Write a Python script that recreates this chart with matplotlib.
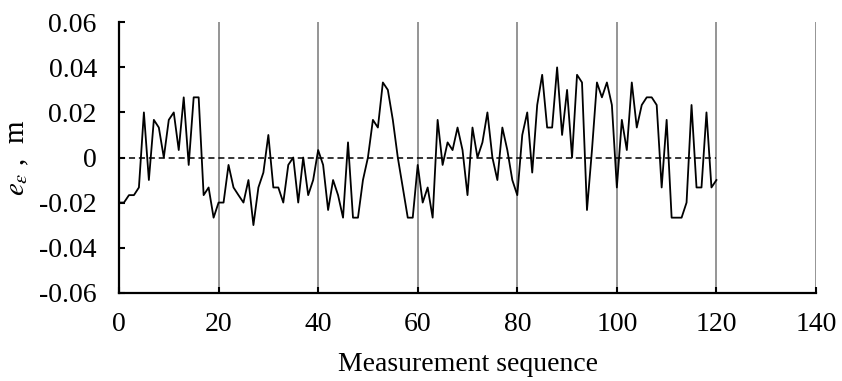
import matplotlib
matplotlib.use("Agg")
import matplotlib.pyplot as plt
import numpy as np

# Measurement sequence and error values (m)
seq = list(range(0, 121))
err = [
    -0.0200, -0.0200, -0.0167, -0.0167, -0.0133, 0.0200, -0.0100, 0.0167, 0.0133, 0.0000,
    0.0167, 0.0200, 0.0033, 0.0267, -0.0033, 0.0267, 0.0267, -0.0167, -0.0133, -0.0267,
    -0.0200, -0.0200, -0.0033, -0.0133, -0.0167, -0.0200, -0.0100, -0.0300, -0.0133, -0.0067,
    0.0100, -0.0133, -0.0133, -0.0200, -0.0033, 0.0000, -0.0200, 0.0000, -0.0167, -0.0100,
    0.0033, -0.0033, -0.0233, -0.0100, -0.0167, -0.0267, 0.0067, -0.0267, -0.0267, -0.0100,
    0.0000, 0.0167, 0.0133, 0.0333, 0.0300, 0.0167, 0.0000, -0.0133, -0.0267, -0.0267,
    -0.0033, -0.0200, -0.0133, -0.0267, 0.0167, -0.0033, 0.0067, 0.0033, 0.0133, 0.0033,
    -0.0167, 0.0133, 0.0000, 0.0067, 0.0200, 0.0000, -0.0100, 0.0133, 0.0033, -0.0100,
    -0.0167, 0.0100, 0.0200, -0.0067, 0.0233, 0.0367, 0.0133, 0.0133, 0.0400, 0.0100,
    0.0300, 0.0000, 0.0367, 0.0333, -0.0233, 0.0033, 0.0333, 0.0267, 0.0333, 0.0233,
    -0.0133, 0.0167, 0.0033, 0.0333, 0.0133, 0.0233, 0.0267, 0.0267, 0.0233, -0.0133,
    0.0167, -0.0267, -0.0267, -0.0267, -0.0200, 0.0233, -0.0133, -0.0133, 0.0200, -0.0133,
    -0.0100,
]
xticks = [0, 20, 40, 60, 80, 100, 120, 140]
yticks = [-0.06, -0.04, -0.02, 0.0, 0.02, 0.04, 0.06]
ytick_labels = ["-0.06", "-0.04", "-0.02", "0", "0.02", "0.04", "0.06"]

plt.rcParams['font.family'] = ['Liberation Serif', 'DejaVu Serif']
plt.rcParams['mathtext.fontset'] = 'stix'

fig = plt.figure(figsize=(8.42, 3.81), dpi=100)
ax = fig.add_axes([119 / 842, 1 - 292.7 / 381, (816 - 119) / 842, (292.7 - 22.3) / 381])

for xt in xticks[1:]:
    ax.axvline(xt, color='#8c8c8c', lw=1.3, zorder=1)

ax.hlines(0, seq[0], seq[-1], colors='black', linestyles=(0, (4, 2.5)), lw=1.1, zorder=2)
ax.plot(seq, err, color='black', lw=1.3, zorder=3)

ax.set_xlim(0, 140)
ax.set_ylim(-0.06, 0.06)
ax.set_xticks(xticks)
ax.set_yticks(yticks)
ax.set_yticklabels(ytick_labels)

for s in ['top', 'right']:
    ax.spines[s].set_visible(False)
for s in ['left', 'bottom']:
    ax.spines[s].set_linewidth(1.6)
    ax.spines[s].set_color('black')

ax.tick_params(axis='both', direction='in', length=4, width=1.5, labelsize=20, colors='black')
ax.tick_params(axis='x', pad=14)
ax.tick_params(axis='y', pad=16)

ax.set_xlabel('Measurement sequence', fontsize=20, labelpad=11)
ax.set_ylabel(r'$e_{\varepsilon}$ ,  m', fontsize=21, labelpad=6)

fig.savefig('out.png', dpi=100)
